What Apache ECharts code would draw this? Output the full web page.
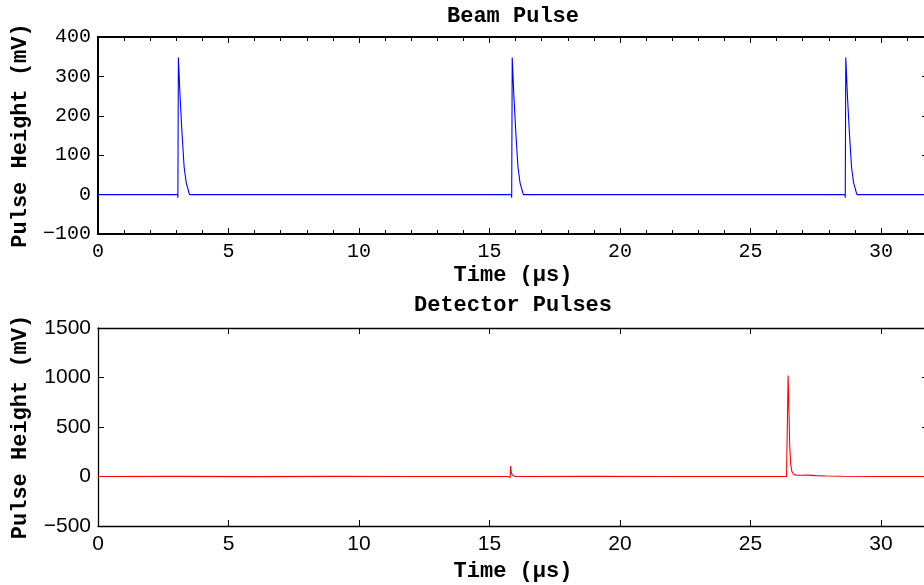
<!DOCTYPE html>
<html><head><meta charset="utf-8">
<script src="https://cdn.jsdelivr.net/npm/echarts@6/dist/echarts.min.js"></script>
<style>html,body{margin:0;padding:0;background:#fff}#c{width:924px;height:585px}</style>
</head><body><div id="c"></div>
<script>
// Beam pulse trace (time in µs, height in mV)
const beamTime = [0, 0.3, 2.9, 3.05, 3.06, 3.08, 3.14, 3.22, 3.30, 3.38, 3.45, 3.48, 3.51,
  15.7, 15.84, 15.85, 15.87, 15.93, 16.01, 16.09, 16.17, 16.24, 16.27, 16.30,
  28.5, 28.62, 28.63, 28.65, 28.71, 28.79, 28.87, 28.95, 29.02, 29.05, 29.08, 31.8];
const beamHeight = [0, 0, 0, 0, -8, 348, 255, 155, 70, 30, 13, 6, 0,
  0, 0, -8, 348, 255, 155, 70, 30, 13, 6, 0,
  0, 0, -8, 348, 255, 155, 70, 30, 13, 6, 0, 0];

// Detector pulse trace
const detTime = [0, 3, 6, 9, 12, 15.7, 15.79, 15.81, 15.83, 15.87, 15.92, 15.98, 16.1, 19, 22, 26.38,
  26.41, 26.44, 26.47, 26.50, 26.54, 26.58, 26.64, 26.75, 26.95, 27.2, 27.5, 27.9, 28.5, 30, 31.8];
const detHeight = [0, 1, -1, 1, 0, 0, -10, 105, 45, 15, 4, 0, 0, 1, 0, 0,
  -20, 1020, 700, 320, 130, 55, 25, 14, 12, 14, 9, 5, 2, 0, 0];

const xTicks = [0, 5, 10, 15, 20, 25, 30];
const beamYTicks = [-100, 0, 100, 200, 300, 400];
const detYTicks = [-500, 0, 500, 1000, 1500];

const mono = "'Courier New', 'Liberation Mono', 'DejaVu Sans Mono', monospace";
const sans = "'Liberation Sans', Arial, Helvetica, sans-serif";

const beamData = beamTime.map((t, i) => [t, beamHeight[i]]);
const detData = detTime.map((t, i) => [t, detHeight[i]]);

function xAx(grid, font, fsize, thick, minor, withName, gap) {
  return {
    type: 'value', gridIndex: grid, min: 0, max: 31.8, interval: 5,
    position: 'bottom',
    axisLine: { show: true, onZero: false, lineStyle: { color: '#000', width: thick } },
    axisTick: { show: true, inside: true, length: 6, lineStyle: { color: '#000', width: 1 } },
    minorTick: { show: minor, splitNumber: 5, length: 4, lineStyle: { color: '#000', width: 1 } },
    splitLine: { show: false },
    axisLabel: { show: withName, color: '#000', fontFamily: font, fontSize: fsize, margin: 8,
      formatter: v => xTicks.includes(v) ? String(v) : '' },
    name: withName ? 'Time (\u03bcs)' : '', nameLocation: 'middle', nameGap: gap,
    nameTextStyle: { fontFamily: mono, fontWeight: 'bold', fontSize: 22, color: '#000' }
  };
}
function xTop(grid, thick, minor) {
  const a = xAx(grid, mono, 15, thick, minor, false, 0);
  a.position = 'top';
  a.axisLabel = { show: false };
  return a;
}
function yAx(grid, mn, mx, iv, font, fsize, thick, labelTicks, pos) {
  const left = pos === 'left';
  return {
    type: 'value', gridIndex: grid, min: mn, max: mx, interval: iv, position: pos,
    axisLine: { show: true, onZero: false, lineStyle: { color: '#000', width: thick } },
    axisTick: { show: true, inside: true, length: 6, lineStyle: { color: '#000', width: 1 } },
    splitLine: { show: false },
    axisLabel: { show: left, color: '#000', fontFamily: font, fontSize: fsize, margin: 7,
      formatter: v => labelTicks.includes(v) ? String(v).replace('-', '\u2212') : '' },
    name: left ? 'Pulse Height (mV)' : '', nameLocation: 'middle', nameGap: left ? 67 : 0,
    nameTextStyle: { fontFamily: mono, fontWeight: 'bold', fontSize: 22, color: '#000' }
  };
}

const chart = echarts.init(document.getElementById('c'), null, { renderer: 'canvas' });
chart.setOption({
  animation: false,
  backgroundColor: '#fff',
  title: [
    { text: 'Beam Pulse', left: 513, top: 5, textAlign: 'center', padding: 0,
      textStyle: { fontFamily: mono, fontWeight: 'bold', fontSize: 22, color: '#000' } },
    { text: 'Detector Pulses', left: 513, top: 294, textAlign: 'center', padding: 0,
      textStyle: { fontFamily: mono, fontWeight: 'bold', fontSize: 22, color: '#000' } }
  ],
  grid: [
    { left: 98, top: 37, width: 830, height: 197, show: false, outerBoundsMode: 'none' },
    { left: 98, top: 328, width: 830, height: 198, show: false, outerBoundsMode: 'none' }
  ],
  xAxis: [
    xAx(0, mono, 20, 2, true, true, 30),
    xTop(0, 2, true),
    xAx(1, sans, 21, 1.3, false, true, 34),
    xTop(1, 1.3, false)
  ],
  yAxis: [
    yAx(0, -100, 400, 100, mono, 20, 2, beamYTicks, 'left'),
    yAx(0, -100, 400, 100, mono, 20, 2, beamYTicks, 'right'),
    yAx(1, -500, 1500, 500, sans, 21, 1.3, detYTicks, 'left'),
    yAx(1, -500, 1500, 500, sans, 21, 1.3, detYTicks, 'right')
  ],
  series: [
    { type: 'line', xAxisIndex: 0, yAxisIndex: 0, data: beamData, showSymbol: false,
      lineStyle: { color: '#0000ff', width: 1.1 }, itemStyle: { color: '#0000ff' } },
    { type: 'line', xAxisIndex: 2, yAxisIndex: 2, data: detData, showSymbol: false,
      lineStyle: { color: '#ff0000', width: 1.1 }, itemStyle: { color: '#ff0000' } }
  ]
});
</script></body></html>
